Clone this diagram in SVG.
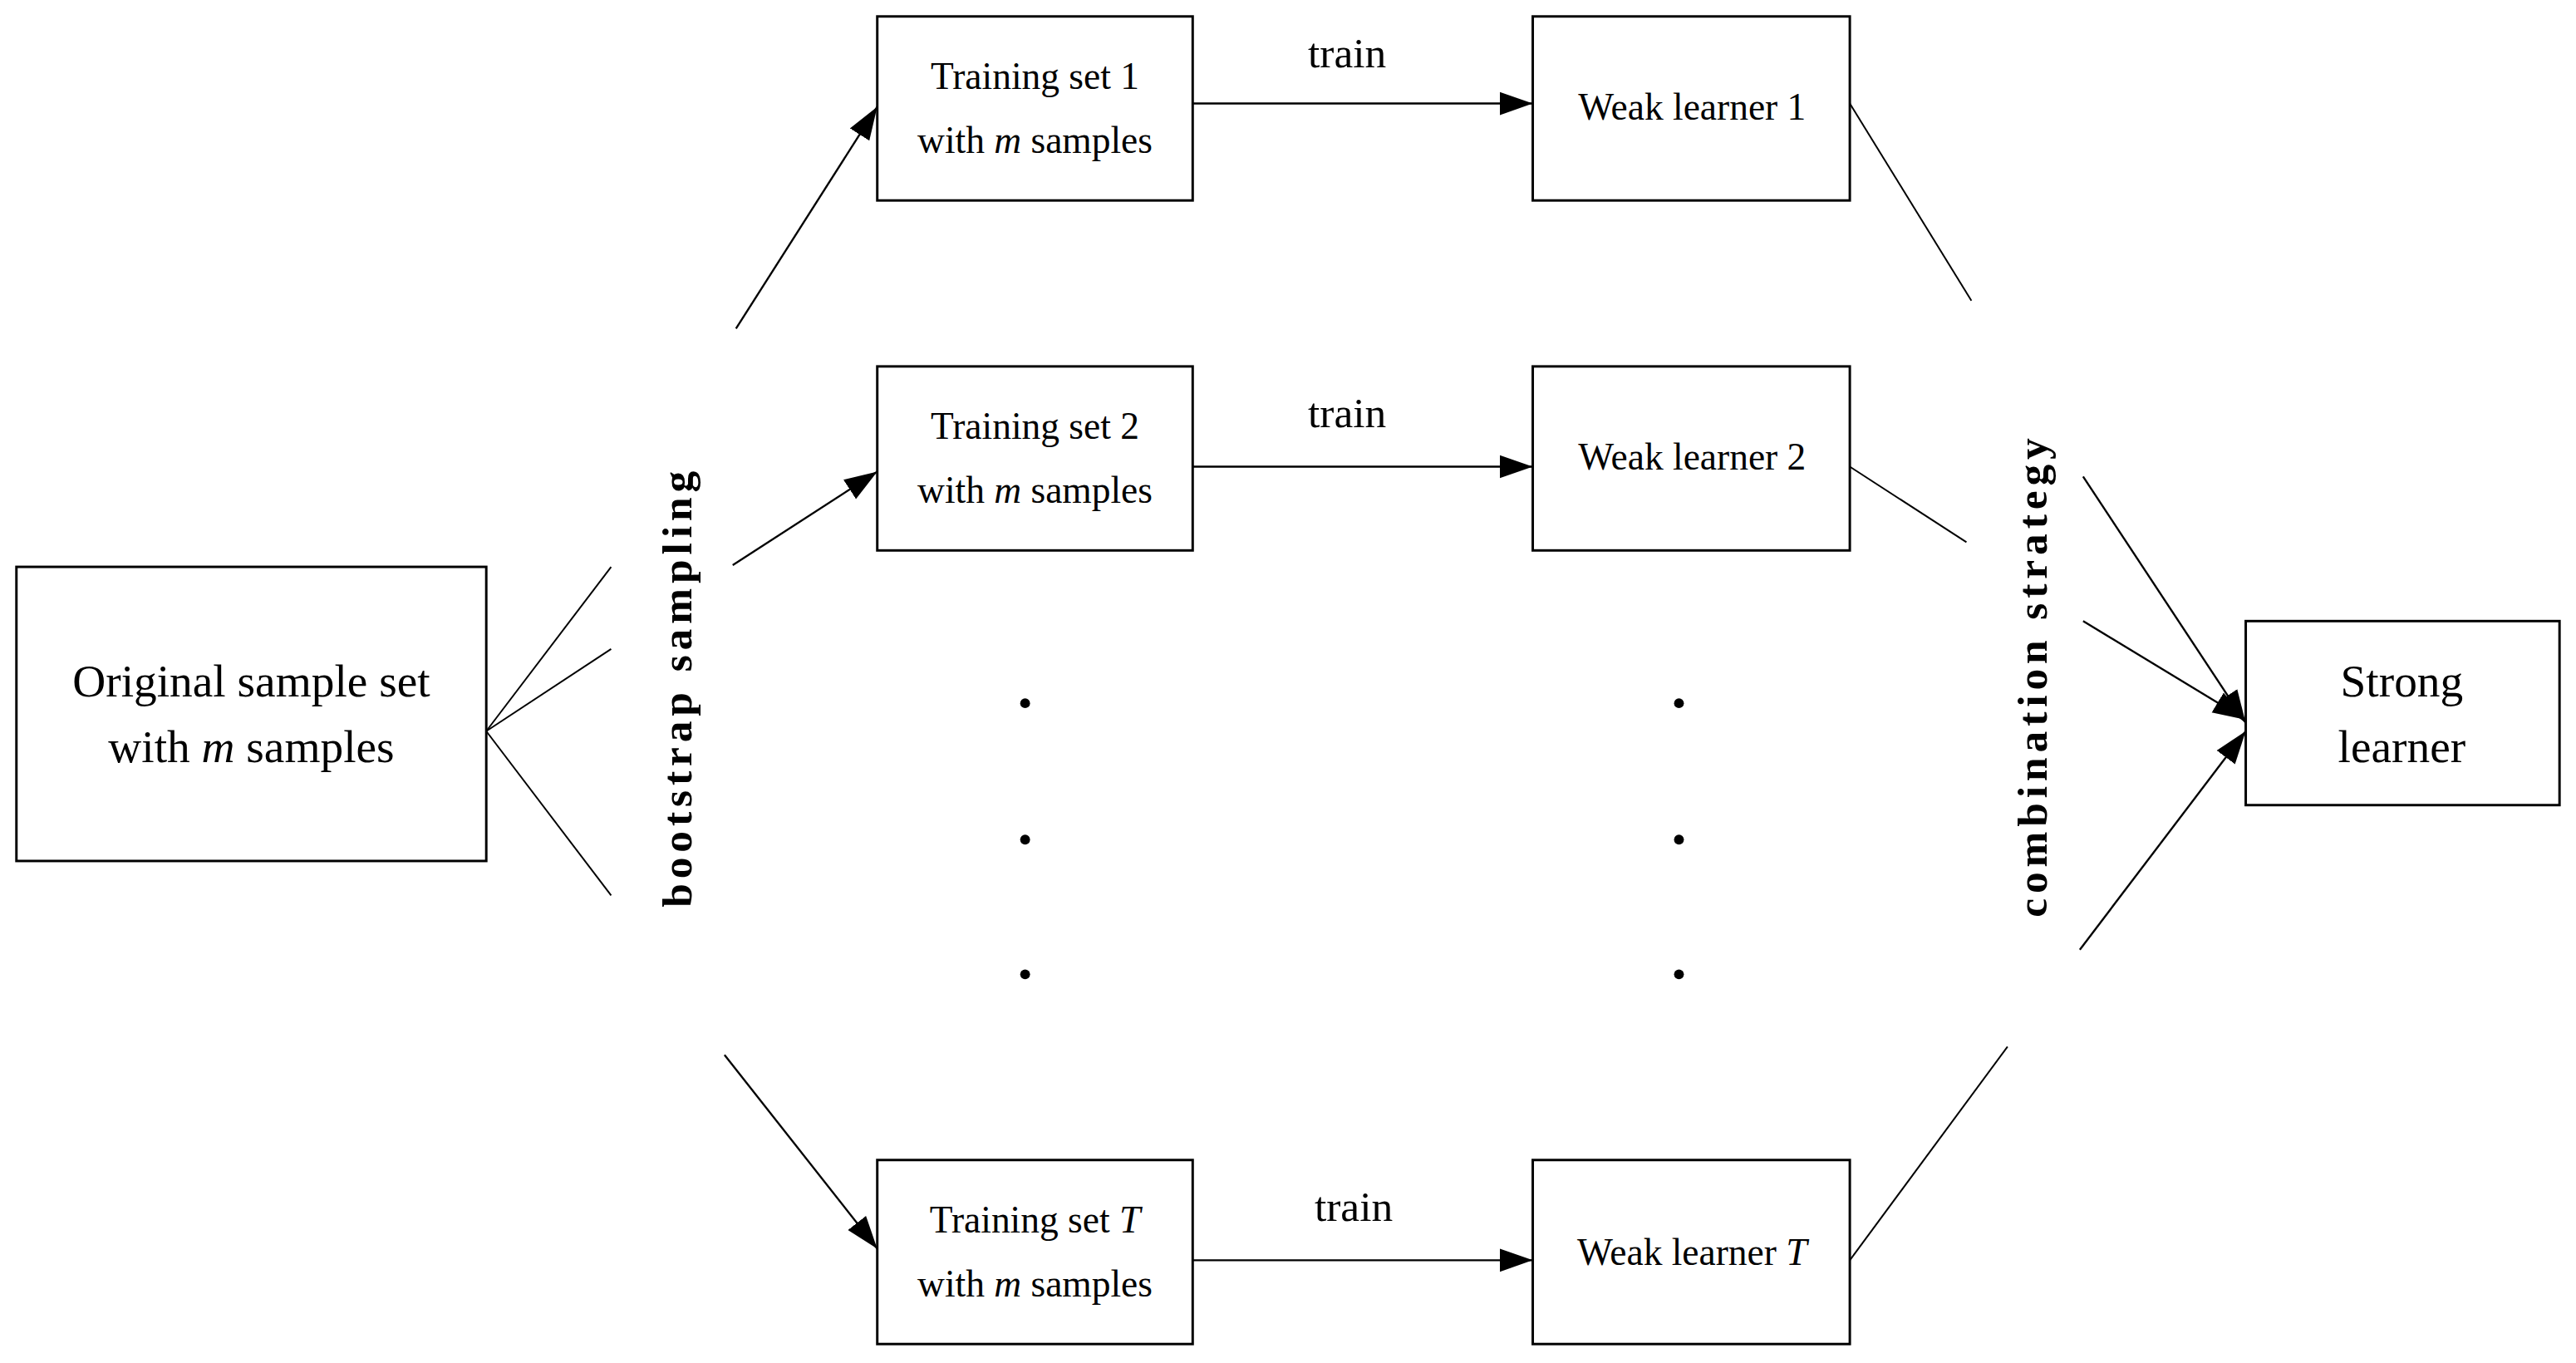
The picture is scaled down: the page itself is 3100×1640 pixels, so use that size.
<svg xmlns="http://www.w3.org/2000/svg" width="3100" height="1640" viewBox="0 0 3100 1640">
<style>
.b{fill:#fff;stroke:#000;stroke-width:1.5}
.t{font-family:"Liberation Serif",serif;font-size:23px;text-anchor:middle;fill:#000}
.r{font-size:26px;font-weight:bold;letter-spacing:3px}
.l{stroke:#000;stroke-width:1;fill:none}
.a{stroke:#000;stroke-width:1.2;fill:none;marker-end:url(#ar)}
</style>
<defs><marker id="ar" viewBox="0 0 10 10" refX="10" refY="5" markerWidth="20" markerHeight="20" markerUnits="userSpaceOnUse" orient="auto"><path d="M0,1.5 L10,5 L0,8.5 z" fill="#000"/></marker></defs>
<rect width="3100" height="1640" fill="#fff"/>
<g transform="scale(1.977)">
<g id="original"><rect class="b" x="10" y="345" width="286" height="179"/><text class="t" style="font-size:28px" x="153" y="424">Original sample set</text><text class="t" style="font-size:28px" x="153" y="464">with <tspan font-style="italic">m</tspan> samples</text></g>
<g id="ts1"><rect class="b" x="534" y="10" width="192" height="112"/><text class="t" x="630" y="54">Training set 1</text><text class="t" x="630" y="93">with <tspan font-style="italic">m</tspan> samples</text></g>
<g id="ts2"><rect class="b" x="534" y="223" width="192" height="112"/><text class="t" x="630" y="267">Training set 2</text><text class="t" x="630" y="306">with <tspan font-style="italic">m</tspan> samples</text></g>
<g id="tsT"><rect class="b" x="534" y="706" width="192" height="112"/><text class="t" x="630" y="750">Training set <tspan font-style="italic">T</tspan></text><text class="t" x="630" y="789">with <tspan font-style="italic">m</tspan> samples</text></g>
<g id="wl1"><rect class="b" x="933" y="10" width="193" height="112"/><text class="t" x="1030" y="73">Weak learner 1</text></g>
<g id="wl2"><rect class="b" x="933" y="223" width="193" height="112"/><text class="t" x="1030" y="286">Weak learner 2</text></g>
<g id="wlT"><rect class="b" x="933" y="706" width="193" height="112"/><text class="t" x="1030" y="770">Weak learner <tspan font-style="italic">T</tspan></text></g>
<g id="strong"><rect class="b" x="1367" y="378" width="191" height="112"/><text class="t" style="font-size:28px" x="1462" y="424">Strong</text><text class="t" style="font-size:28px" x="1462" y="464">learner</text></g>
<g id="labels">
<text class="t" style="font-size:26px" x="820" y="41">train</text>
<text class="t" style="font-size:26px" x="820" y="260">train</text>
<text class="t" style="font-size:26px" x="824" y="743">train</text>
<text class="t r" transform="translate(421,418) rotate(-90)">bootstrap sampling</text>
<text class="t r" transform="translate(1246,411) rotate(-90)">combination strategy</text>
<g fill="#000"><circle cx="624" cy="428" r="3"/><circle cx="624" cy="511" r="3"/><circle cx="624" cy="593" r="3"/><circle cx="1022" cy="428" r="3"/><circle cx="1022" cy="511" r="3"/><circle cx="1022" cy="593" r="3"/></g>
</g>
<g id="connectors">
<line class="l" x1="296" y1="445" x2="372" y2="345"/>
<line class="l" x1="296" y1="445" x2="372" y2="395"/>
<line class="l" x1="296" y1="445" x2="372" y2="545"/>
<line class="a" x1="448" y1="200" x2="534" y2="65"/>
<line class="a" x1="446" y1="344" x2="534" y2="287"/>
<line class="a" x1="441" y1="642" x2="534" y2="760"/>
<line class="a" x1="726" y1="63" x2="933" y2="63"/>
<line class="a" x1="726" y1="284" x2="933" y2="284"/>
<line class="a" x1="726" y1="767" x2="933" y2="767"/>
<line class="l" x1="1126" y1="63" x2="1200" y2="183"/>
<line class="l" x1="1126" y1="284" x2="1197" y2="330"/>
<line class="l" x1="1126" y1="767" x2="1222" y2="637"/>
<line class="a" x1="1268" y1="290" x2="1367" y2="440"/>
<line class="a" x1="1268" y1="378" x2="1367" y2="438"/>
<line class="a" x1="1266" y1="578" x2="1367" y2="445"/>
</g>
</g>
</svg>
